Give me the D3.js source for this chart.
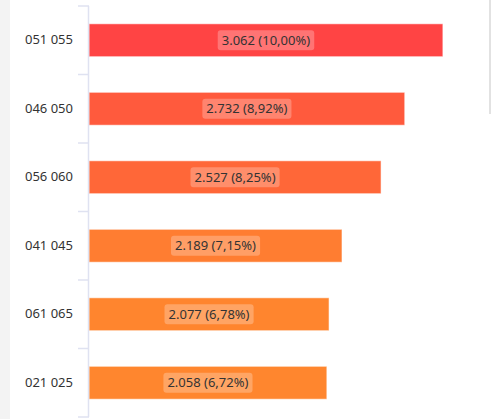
<!DOCTYPE html>
<html>
<head>
<meta charset="utf-8">
<script src="https://cdn.jsdelivr.net/npm/d3@7"></script>
<style>
  html, body { margin: 0; padding: 0; background: #fff; overflow: hidden; }
  #chart { position: relative; width: 491px; height: 419px; }
  .strip { position: absolute; left: 0; top: 0; width: 10px; height: 419px; background: #f3f3f3; }
  .sbar { position: absolute; left: 489px; top: 0; width: 2px; height: 114px; background: #e2e2e2; }
  svg { position: absolute; left: 0; top: 0; }
</style>
</head>
<body>
<div id="chart"><div class="strip"></div><div class="sbar"></div></div>
<script>
// data
var categories = ['051 055', '046 050', '056 060', '041 045', '061 065', '021 025'];
var values = [3062, 2732, 2527, 2189, 2077, 2058];
var percents = [10.00, 8.92, 8.25, 7.15, 6.78, 6.72];

var svpWidth = 491;
var svpHeight = 419;
var margin = {top: 6, right: 0, bottom: 2, left: 89};

var locale = d3.formatLocale({decimal: ',', thousands: '.', grouping: [3], currency: ['', '']});
var fmtVal = locale.format(',d');
var fmtPct = locale.format('.2f');

var data = categories.map(function (c, i) {
	return {cat: c, value: values[i], pct: percents[i]};
});

var svg = d3.select('#chart')
	.append('svg')
	.attr('width', svpWidth)
	.attr('height', svpHeight);

var x = d3.scaleLinear()
	.domain([0, 3500])
	.range([margin.left, margin.left + 404.5]);

var y = d3.scaleBand()
	.domain(categories)
	.range([margin.top, 417])
	.paddingInner(0.52)
	.paddingOuter(0.26);

var color = d3.scaleLinear()
	.domain([d3.min(values), d3.max(values)])
	.range(['#ff862e', '#ff4444']);

// bars
svg.append('g')
	.selectAll('rect')
	.data(data)
	.enter()
	.append('rect')
	.attr('x', x(0))
	.attr('y', d => y(d.cat))
	.attr('width', d => x(d.value) - x(0))
	.attr('height', y.bandwidth())
	.style('fill', d => color(d.value))
	.style('stroke', 'rgba(255,255,255,0.55)')
	.style('stroke-width', 1);

// y axis: labels at band centers, ticks at band boundaries
var yAxis = svg.append('g')
	.attr('transform', 'translate(' + margin.left + ',0)')
	.call(d3.axisLeft(y).tickSize(0).tickPadding(16));
yAxis.select('.domain').remove();
yAxis.selectAll('text')
	.style('font-family', '"Noto Sans", sans-serif')
	.style('font-size', '13px')
	.style('fill', '#333');

var bounds = d3.range(categories.length + 1).map(i => margin.top + i * y.step());
svg.append('line')
	.attr('x1', margin.left - 0.5).attr('x2', margin.left - 0.5)
	.attr('y1', bounds[0]).attr('y2', bounds[bounds.length - 1])
	.style('stroke', '#dfe2f1').style('stroke-width', 1.5);
svg.append('g')
	.selectAll('line')
	.data(bounds)
	.enter()
	.append('line')
	.attr('x1', margin.left - 11).attr('x2', margin.left)
	.attr('y1', d => d).attr('y2', d => d)
	.style('stroke', '#dfe2f1').style('stroke-width', 1.5);

// value labels
var lab = svg.append('g')
	.selectAll('g')
	.data(data)
	.enter()
	.append('g')
	.attr('transform', d => 'translate(' + (x(0) + x(d.value)) / 2 + ',' + (y(d.cat) + y.bandwidth() / 2) + ')');
lab.append('text')
	.attr('text-anchor', 'middle')
	.attr('dy', '0.35em')
	.style('font-family', '"Noto Sans", sans-serif')
	.style('font-size', '13px')
	.style('fill', '#333')
	.text(d => fmtVal(d.value) + ' (' + fmtPct(d.pct) + '%)');
lab.each(function () {
	var g = d3.select(this);
	var bb = g.select('text').node().getBBox();
	g.insert('rect', 'text')
		.attr('x', bb.x - 4).attr('y', -10)
		.attr('width', bb.width + 8).attr('height', 20)
		.attr('rx', 3)
		.style('fill', 'rgba(255,255,255,0.26)');
});
</script>
</body>
</html>
